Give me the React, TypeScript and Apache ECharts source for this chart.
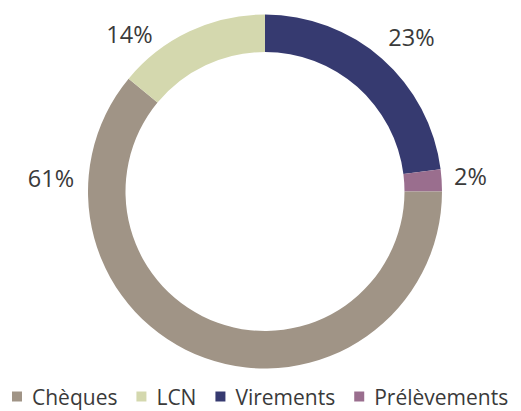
import React, { useEffect, useRef } from "react";
import * as echarts from "echarts";

const categories = ["Virements", "Prélèvements", "Chèques", "LCN"];
const values = [23, 2, 61, 14];
const colors = ["#363A70", "#9A6E8E", "#A09486", "#D4D8AE"];
const legendOrder = ["Chèques", "LCN", "Virements", "Prélèvements"];
// label anchor positions (chart px)
const labelPos: [number, number][] = [
  [403.5, 29],
  [462.5, 168],
  [43, 169.5],
  [121.5, 26],
];

export default function App() {
  const ref = useRef<HTMLDivElement>(null);
  useEffect(() => {
    const chart = echarts.init(ref.current!, null, { renderer: "svg" });
    chart.setOption({
      animation: false,
      textStyle: { fontFamily: "Open Sans" },
      legend: {
        data: legendOrder,
        top: 378,
        left: 4,
        padding: 0,
        itemWidth: 10,
        itemHeight: 10,
        itemGap: 19,
        icon: "rect",
        textStyle: { fontSize: 21, color: "#3a3a3a", fontFamily: "Open Sans", padding: [0, 0, 0, 5] },
      },
      series: [
        {
          type: "pie",
          center: [257, 183.5],
          radius: [139.5, 177],
          startAngle: 90,
          clockwise: true,
          data: categories.map((c, i) => ({ name: c, value: values[i], itemStyle: { color: colors[i] } })),
          label: {
            show: true,
            position: "outside",
            formatter: "{c}%",
            fontSize: 23.5,
            color: "#3a3a3a",
            fontFamily: "Open Sans",
            overflow: "none",
            width: 80,
          },
          labelLine: { show: false },
          labelLayout: (p: any) => ({
            x: labelPos[p.dataIndex][0],
            y: labelPos[p.dataIndex][1],
            align: "center",
            verticalAlign: "middle",
          }),
        },
      ],
    });
    return () => chart.dispose();
  }, []);
  return <div ref={ref} style={{ width: 513, height: 403 }} />;
}
